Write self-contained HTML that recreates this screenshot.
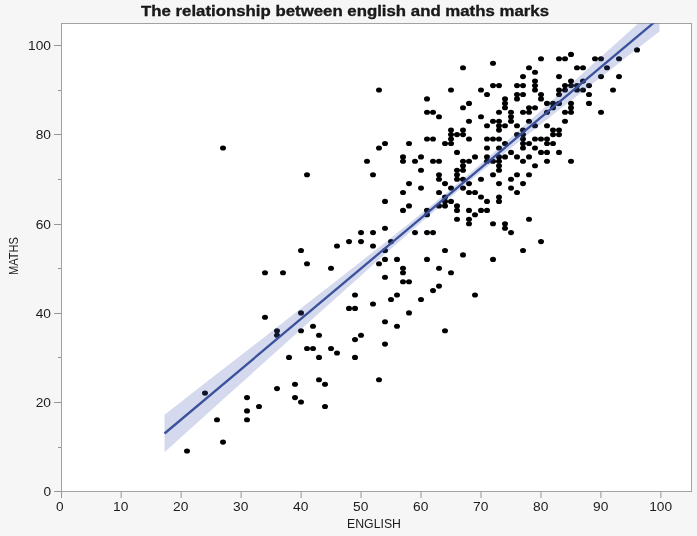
<!DOCTYPE html><html><head><meta charset="utf-8"><title>The relationship between english and maths marks</title>
<style>html,body{margin:0;padding:0;background:#f6f6f6}svg{display:block}text{font-family:"Liberation Sans",sans-serif;fill:#1c1c1c}</style></head><body>
<svg width="697" height="536" viewBox="0 0 697 536">
<rect width="697" height="536" fill="#f6f6f6"/>
<defs><clipPath id="c"><rect x="61.5" y="23.5" width="630" height="468"/></clipPath></defs>
<rect x="61.5" y="23.5" width="630" height="468" fill="#fff" stroke="#a2a2a2" stroke-width="1"/>
<g clip-path="url(#c)">
<g fill="#000">
<ellipse cx="187.0" cy="451.0" rx="3.0" ry="2.55"/>
<ellipse cx="205.0" cy="393.1" rx="3.0" ry="2.55"/>
<ellipse cx="217.0" cy="419.8" rx="3.0" ry="2.55"/>
<ellipse cx="223.0" cy="442.1" rx="3.0" ry="2.55"/>
<ellipse cx="223.0" cy="148.0" rx="3.0" ry="2.55"/>
<ellipse cx="247.0" cy="419.8" rx="3.0" ry="2.55"/>
<ellipse cx="247.0" cy="410.9" rx="3.0" ry="2.55"/>
<ellipse cx="247.0" cy="397.6" rx="3.0" ry="2.55"/>
<ellipse cx="259.0" cy="406.5" rx="3.0" ry="2.55"/>
<ellipse cx="265.0" cy="317.3" rx="3.0" ry="2.55"/>
<ellipse cx="265.0" cy="272.8" rx="3.0" ry="2.55"/>
<ellipse cx="277.0" cy="388.6" rx="3.0" ry="2.55"/>
<ellipse cx="277.0" cy="335.2" rx="3.0" ry="2.55"/>
<ellipse cx="277.0" cy="330.7" rx="3.0" ry="2.55"/>
<ellipse cx="283.0" cy="272.8" rx="3.0" ry="2.55"/>
<ellipse cx="289.0" cy="357.4" rx="3.0" ry="2.55"/>
<ellipse cx="295.0" cy="397.6" rx="3.0" ry="2.55"/>
<ellipse cx="295.0" cy="384.2" rx="3.0" ry="2.55"/>
<ellipse cx="301.0" cy="402.0" rx="3.0" ry="2.55"/>
<ellipse cx="301.0" cy="330.7" rx="3.0" ry="2.55"/>
<ellipse cx="301.0" cy="312.9" rx="3.0" ry="2.55"/>
<ellipse cx="301.0" cy="250.5" rx="3.0" ry="2.55"/>
<ellipse cx="307.0" cy="348.5" rx="3.0" ry="2.55"/>
<ellipse cx="307.0" cy="263.8" rx="3.0" ry="2.55"/>
<ellipse cx="307.0" cy="174.7" rx="3.0" ry="2.55"/>
<ellipse cx="313.0" cy="348.5" rx="3.0" ry="2.55"/>
<ellipse cx="313.0" cy="326.2" rx="3.0" ry="2.55"/>
<ellipse cx="319.0" cy="379.7" rx="3.0" ry="2.55"/>
<ellipse cx="319.0" cy="357.4" rx="3.0" ry="2.55"/>
<ellipse cx="319.0" cy="335.2" rx="3.0" ry="2.55"/>
<ellipse cx="325.0" cy="406.5" rx="3.0" ry="2.55"/>
<ellipse cx="325.0" cy="384.2" rx="3.0" ry="2.55"/>
<ellipse cx="331.0" cy="348.5" rx="3.0" ry="2.55"/>
<ellipse cx="331.0" cy="268.3" rx="3.0" ry="2.55"/>
<ellipse cx="337.0" cy="353.0" rx="3.0" ry="2.55"/>
<ellipse cx="337.0" cy="246.0" rx="3.0" ry="2.55"/>
<ellipse cx="349.0" cy="308.4" rx="3.0" ry="2.55"/>
<ellipse cx="349.0" cy="241.6" rx="3.0" ry="2.55"/>
<ellipse cx="355.0" cy="357.4" rx="3.0" ry="2.55"/>
<ellipse cx="355.0" cy="339.6" rx="3.0" ry="2.55"/>
<ellipse cx="355.0" cy="308.4" rx="3.0" ry="2.55"/>
<ellipse cx="355.0" cy="295.0" rx="3.0" ry="2.55"/>
<ellipse cx="361.0" cy="335.2" rx="3.0" ry="2.55"/>
<ellipse cx="361.0" cy="241.6" rx="3.0" ry="2.55"/>
<ellipse cx="361.0" cy="232.6" rx="3.0" ry="2.55"/>
<ellipse cx="367.0" cy="161.3" rx="3.0" ry="2.55"/>
<ellipse cx="373.0" cy="304.0" rx="3.0" ry="2.55"/>
<ellipse cx="373.0" cy="246.0" rx="3.0" ry="2.55"/>
<ellipse cx="373.0" cy="232.6" rx="3.0" ry="2.55"/>
<ellipse cx="373.0" cy="174.7" rx="3.0" ry="2.55"/>
<ellipse cx="379.0" cy="379.7" rx="3.0" ry="2.55"/>
<ellipse cx="379.0" cy="263.8" rx="3.0" ry="2.55"/>
<ellipse cx="379.0" cy="148.0" rx="3.0" ry="2.55"/>
<ellipse cx="379.0" cy="90.0" rx="3.0" ry="2.55"/>
<ellipse cx="385.0" cy="344.1" rx="3.0" ry="2.55"/>
<ellipse cx="385.0" cy="321.8" rx="3.0" ry="2.55"/>
<ellipse cx="385.0" cy="277.2" rx="3.0" ry="2.55"/>
<ellipse cx="385.0" cy="259.4" rx="3.0" ry="2.55"/>
<ellipse cx="385.0" cy="250.5" rx="3.0" ry="2.55"/>
<ellipse cx="385.0" cy="228.2" rx="3.0" ry="2.55"/>
<ellipse cx="385.0" cy="201.4" rx="3.0" ry="2.55"/>
<ellipse cx="385.0" cy="143.5" rx="3.0" ry="2.55"/>
<ellipse cx="391.0" cy="299.5" rx="3.0" ry="2.55"/>
<ellipse cx="391.0" cy="241.6" rx="3.0" ry="2.55"/>
<ellipse cx="397.0" cy="326.2" rx="3.0" ry="2.55"/>
<ellipse cx="397.0" cy="295.0" rx="3.0" ry="2.55"/>
<ellipse cx="397.0" cy="259.4" rx="3.0" ry="2.55"/>
<ellipse cx="403.0" cy="281.7" rx="3.0" ry="2.55"/>
<ellipse cx="403.0" cy="272.8" rx="3.0" ry="2.55"/>
<ellipse cx="403.0" cy="268.3" rx="3.0" ry="2.55"/>
<ellipse cx="403.0" cy="210.4" rx="3.0" ry="2.55"/>
<ellipse cx="403.0" cy="192.5" rx="3.0" ry="2.55"/>
<ellipse cx="403.0" cy="161.3" rx="3.0" ry="2.55"/>
<ellipse cx="403.0" cy="156.9" rx="3.0" ry="2.55"/>
<ellipse cx="409.0" cy="312.9" rx="3.0" ry="2.55"/>
<ellipse cx="409.0" cy="281.7" rx="3.0" ry="2.55"/>
<ellipse cx="409.0" cy="205.9" rx="3.0" ry="2.55"/>
<ellipse cx="409.0" cy="183.6" rx="3.0" ry="2.55"/>
<ellipse cx="409.0" cy="143.5" rx="3.0" ry="2.55"/>
<ellipse cx="415.0" cy="232.6" rx="3.0" ry="2.55"/>
<ellipse cx="415.0" cy="161.3" rx="3.0" ry="2.55"/>
<ellipse cx="421.0" cy="299.5" rx="3.0" ry="2.55"/>
<ellipse cx="421.0" cy="188.1" rx="3.0" ry="2.55"/>
<ellipse cx="421.0" cy="170.2" rx="3.0" ry="2.55"/>
<ellipse cx="421.0" cy="156.9" rx="3.0" ry="2.55"/>
<ellipse cx="427.0" cy="259.4" rx="3.0" ry="2.55"/>
<ellipse cx="427.0" cy="232.6" rx="3.0" ry="2.55"/>
<ellipse cx="427.0" cy="214.8" rx="3.0" ry="2.55"/>
<ellipse cx="427.0" cy="210.4" rx="3.0" ry="2.55"/>
<ellipse cx="427.0" cy="139.0" rx="3.0" ry="2.55"/>
<ellipse cx="427.0" cy="112.3" rx="3.0" ry="2.55"/>
<ellipse cx="427.0" cy="98.9" rx="3.0" ry="2.55"/>
<ellipse cx="433.0" cy="290.6" rx="3.0" ry="2.55"/>
<ellipse cx="433.0" cy="232.6" rx="3.0" ry="2.55"/>
<ellipse cx="433.0" cy="161.3" rx="3.0" ry="2.55"/>
<ellipse cx="433.0" cy="139.0" rx="3.0" ry="2.55"/>
<ellipse cx="433.0" cy="112.3" rx="3.0" ry="2.55"/>
<ellipse cx="439.0" cy="286.1" rx="3.0" ry="2.55"/>
<ellipse cx="439.0" cy="268.3" rx="3.0" ry="2.55"/>
<ellipse cx="439.0" cy="205.9" rx="3.0" ry="2.55"/>
<ellipse cx="439.0" cy="192.5" rx="3.0" ry="2.55"/>
<ellipse cx="439.0" cy="179.2" rx="3.0" ry="2.55"/>
<ellipse cx="439.0" cy="174.7" rx="3.0" ry="2.55"/>
<ellipse cx="439.0" cy="161.3" rx="3.0" ry="2.55"/>
<ellipse cx="439.0" cy="116.8" rx="3.0" ry="2.55"/>
<ellipse cx="445.0" cy="330.7" rx="3.0" ry="2.55"/>
<ellipse cx="445.0" cy="250.5" rx="3.0" ry="2.55"/>
<ellipse cx="445.0" cy="205.9" rx="3.0" ry="2.55"/>
<ellipse cx="445.0" cy="201.4" rx="3.0" ry="2.55"/>
<ellipse cx="445.0" cy="197.0" rx="3.0" ry="2.55"/>
<ellipse cx="445.0" cy="183.6" rx="3.0" ry="2.55"/>
<ellipse cx="445.0" cy="143.5" rx="3.0" ry="2.55"/>
<ellipse cx="451.0" cy="272.8" rx="3.0" ry="2.55"/>
<ellipse cx="451.0" cy="201.4" rx="3.0" ry="2.55"/>
<ellipse cx="451.0" cy="188.1" rx="3.0" ry="2.55"/>
<ellipse cx="451.0" cy="143.5" rx="3.0" ry="2.55"/>
<ellipse cx="451.0" cy="139.0" rx="3.0" ry="2.55"/>
<ellipse cx="451.0" cy="134.6" rx="3.0" ry="2.55"/>
<ellipse cx="451.0" cy="130.1" rx="3.0" ry="2.55"/>
<ellipse cx="451.0" cy="90.0" rx="3.0" ry="2.55"/>
<ellipse cx="457.0" cy="219.3" rx="3.0" ry="2.55"/>
<ellipse cx="457.0" cy="210.4" rx="3.0" ry="2.55"/>
<ellipse cx="457.0" cy="205.9" rx="3.0" ry="2.55"/>
<ellipse cx="457.0" cy="179.2" rx="3.0" ry="2.55"/>
<ellipse cx="457.0" cy="174.7" rx="3.0" ry="2.55"/>
<ellipse cx="457.0" cy="170.2" rx="3.0" ry="2.55"/>
<ellipse cx="457.0" cy="152.4" rx="3.0" ry="2.55"/>
<ellipse cx="457.0" cy="134.6" rx="3.0" ry="2.55"/>
<ellipse cx="463.0" cy="254.9" rx="3.0" ry="2.55"/>
<ellipse cx="463.0" cy="188.1" rx="3.0" ry="2.55"/>
<ellipse cx="463.0" cy="179.2" rx="3.0" ry="2.55"/>
<ellipse cx="463.0" cy="170.2" rx="3.0" ry="2.55"/>
<ellipse cx="463.0" cy="165.8" rx="3.0" ry="2.55"/>
<ellipse cx="463.0" cy="161.3" rx="3.0" ry="2.55"/>
<ellipse cx="463.0" cy="134.6" rx="3.0" ry="2.55"/>
<ellipse cx="463.0" cy="130.1" rx="3.0" ry="2.55"/>
<ellipse cx="463.0" cy="107.8" rx="3.0" ry="2.55"/>
<ellipse cx="463.0" cy="67.7" rx="3.0" ry="2.55"/>
<ellipse cx="469.0" cy="223.7" rx="3.0" ry="2.55"/>
<ellipse cx="469.0" cy="219.3" rx="3.0" ry="2.55"/>
<ellipse cx="469.0" cy="210.4" rx="3.0" ry="2.55"/>
<ellipse cx="469.0" cy="192.5" rx="3.0" ry="2.55"/>
<ellipse cx="469.0" cy="183.6" rx="3.0" ry="2.55"/>
<ellipse cx="469.0" cy="161.3" rx="3.0" ry="2.55"/>
<ellipse cx="469.0" cy="139.0" rx="3.0" ry="2.55"/>
<ellipse cx="469.0" cy="121.2" rx="3.0" ry="2.55"/>
<ellipse cx="469.0" cy="103.4" rx="3.0" ry="2.55"/>
<ellipse cx="475.0" cy="295.0" rx="3.0" ry="2.55"/>
<ellipse cx="475.0" cy="214.8" rx="3.0" ry="2.55"/>
<ellipse cx="475.0" cy="192.5" rx="3.0" ry="2.55"/>
<ellipse cx="475.0" cy="156.9" rx="3.0" ry="2.55"/>
<ellipse cx="481.0" cy="210.4" rx="3.0" ry="2.55"/>
<ellipse cx="481.0" cy="197.0" rx="3.0" ry="2.55"/>
<ellipse cx="481.0" cy="179.2" rx="3.0" ry="2.55"/>
<ellipse cx="481.0" cy="116.8" rx="3.0" ry="2.55"/>
<ellipse cx="481.0" cy="90.0" rx="3.0" ry="2.55"/>
<ellipse cx="487.0" cy="210.4" rx="3.0" ry="2.55"/>
<ellipse cx="487.0" cy="201.4" rx="3.0" ry="2.55"/>
<ellipse cx="487.0" cy="161.3" rx="3.0" ry="2.55"/>
<ellipse cx="487.0" cy="156.9" rx="3.0" ry="2.55"/>
<ellipse cx="487.0" cy="148.0" rx="3.0" ry="2.55"/>
<ellipse cx="487.0" cy="139.0" rx="3.0" ry="2.55"/>
<ellipse cx="487.0" cy="125.7" rx="3.0" ry="2.55"/>
<ellipse cx="487.0" cy="94.5" rx="3.0" ry="2.55"/>
<ellipse cx="493.0" cy="259.4" rx="3.0" ry="2.55"/>
<ellipse cx="493.0" cy="223.7" rx="3.0" ry="2.55"/>
<ellipse cx="493.0" cy="174.7" rx="3.0" ry="2.55"/>
<ellipse cx="493.0" cy="161.3" rx="3.0" ry="2.55"/>
<ellipse cx="493.0" cy="139.0" rx="3.0" ry="2.55"/>
<ellipse cx="493.0" cy="121.2" rx="3.0" ry="2.55"/>
<ellipse cx="493.0" cy="85.6" rx="3.0" ry="2.55"/>
<ellipse cx="493.0" cy="63.3" rx="3.0" ry="2.55"/>
<ellipse cx="499.0" cy="201.4" rx="3.0" ry="2.55"/>
<ellipse cx="499.0" cy="197.0" rx="3.0" ry="2.55"/>
<ellipse cx="499.0" cy="183.6" rx="3.0" ry="2.55"/>
<ellipse cx="499.0" cy="170.2" rx="3.0" ry="2.55"/>
<ellipse cx="499.0" cy="165.8" rx="3.0" ry="2.55"/>
<ellipse cx="499.0" cy="161.3" rx="3.0" ry="2.55"/>
<ellipse cx="499.0" cy="156.9" rx="3.0" ry="2.55"/>
<ellipse cx="499.0" cy="148.0" rx="3.0" ry="2.55"/>
<ellipse cx="499.0" cy="139.0" rx="3.0" ry="2.55"/>
<ellipse cx="499.0" cy="130.1" rx="3.0" ry="2.55"/>
<ellipse cx="499.0" cy="125.7" rx="3.0" ry="2.55"/>
<ellipse cx="499.0" cy="121.2" rx="3.0" ry="2.55"/>
<ellipse cx="499.0" cy="112.3" rx="3.0" ry="2.55"/>
<ellipse cx="499.0" cy="85.6" rx="3.0" ry="2.55"/>
<ellipse cx="505.0" cy="228.2" rx="3.0" ry="2.55"/>
<ellipse cx="505.0" cy="223.7" rx="3.0" ry="2.55"/>
<ellipse cx="505.0" cy="156.9" rx="3.0" ry="2.55"/>
<ellipse cx="505.0" cy="143.5" rx="3.0" ry="2.55"/>
<ellipse cx="505.0" cy="125.7" rx="3.0" ry="2.55"/>
<ellipse cx="505.0" cy="107.8" rx="3.0" ry="2.55"/>
<ellipse cx="505.0" cy="103.4" rx="3.0" ry="2.55"/>
<ellipse cx="505.0" cy="98.9" rx="3.0" ry="2.55"/>
<ellipse cx="511.0" cy="232.6" rx="3.0" ry="2.55"/>
<ellipse cx="511.0" cy="188.1" rx="3.0" ry="2.55"/>
<ellipse cx="511.0" cy="179.2" rx="3.0" ry="2.55"/>
<ellipse cx="511.0" cy="152.4" rx="3.0" ry="2.55"/>
<ellipse cx="511.0" cy="121.2" rx="3.0" ry="2.55"/>
<ellipse cx="511.0" cy="116.8" rx="3.0" ry="2.55"/>
<ellipse cx="511.0" cy="112.3" rx="3.0" ry="2.55"/>
<ellipse cx="517.0" cy="192.5" rx="3.0" ry="2.55"/>
<ellipse cx="517.0" cy="174.7" rx="3.0" ry="2.55"/>
<ellipse cx="517.0" cy="156.9" rx="3.0" ry="2.55"/>
<ellipse cx="517.0" cy="134.6" rx="3.0" ry="2.55"/>
<ellipse cx="517.0" cy="125.7" rx="3.0" ry="2.55"/>
<ellipse cx="517.0" cy="98.9" rx="3.0" ry="2.55"/>
<ellipse cx="517.0" cy="94.5" rx="3.0" ry="2.55"/>
<ellipse cx="517.0" cy="85.6" rx="3.0" ry="2.55"/>
<ellipse cx="523.0" cy="250.5" rx="3.0" ry="2.55"/>
<ellipse cx="523.0" cy="183.6" rx="3.0" ry="2.55"/>
<ellipse cx="523.0" cy="161.3" rx="3.0" ry="2.55"/>
<ellipse cx="523.0" cy="148.0" rx="3.0" ry="2.55"/>
<ellipse cx="523.0" cy="143.5" rx="3.0" ry="2.55"/>
<ellipse cx="523.0" cy="139.0" rx="3.0" ry="2.55"/>
<ellipse cx="523.0" cy="134.6" rx="3.0" ry="2.55"/>
<ellipse cx="523.0" cy="130.1" rx="3.0" ry="2.55"/>
<ellipse cx="523.0" cy="112.3" rx="3.0" ry="2.55"/>
<ellipse cx="523.0" cy="94.5" rx="3.0" ry="2.55"/>
<ellipse cx="523.0" cy="85.6" rx="3.0" ry="2.55"/>
<ellipse cx="523.0" cy="76.6" rx="3.0" ry="2.55"/>
<ellipse cx="529.0" cy="219.3" rx="3.0" ry="2.55"/>
<ellipse cx="529.0" cy="174.7" rx="3.0" ry="2.55"/>
<ellipse cx="529.0" cy="156.9" rx="3.0" ry="2.55"/>
<ellipse cx="529.0" cy="143.5" rx="3.0" ry="2.55"/>
<ellipse cx="529.0" cy="121.2" rx="3.0" ry="2.55"/>
<ellipse cx="529.0" cy="112.3" rx="3.0" ry="2.55"/>
<ellipse cx="529.0" cy="107.8" rx="3.0" ry="2.55"/>
<ellipse cx="529.0" cy="67.7" rx="3.0" ry="2.55"/>
<ellipse cx="535.0" cy="165.8" rx="3.0" ry="2.55"/>
<ellipse cx="535.0" cy="148.0" rx="3.0" ry="2.55"/>
<ellipse cx="535.0" cy="139.0" rx="3.0" ry="2.55"/>
<ellipse cx="535.0" cy="125.7" rx="3.0" ry="2.55"/>
<ellipse cx="535.0" cy="107.8" rx="3.0" ry="2.55"/>
<ellipse cx="535.0" cy="90.0" rx="3.0" ry="2.55"/>
<ellipse cx="535.0" cy="85.6" rx="3.0" ry="2.55"/>
<ellipse cx="535.0" cy="81.1" rx="3.0" ry="2.55"/>
<ellipse cx="535.0" cy="72.2" rx="3.0" ry="2.55"/>
<ellipse cx="541.0" cy="241.6" rx="3.0" ry="2.55"/>
<ellipse cx="541.0" cy="152.4" rx="3.0" ry="2.55"/>
<ellipse cx="541.0" cy="139.0" rx="3.0" ry="2.55"/>
<ellipse cx="541.0" cy="98.9" rx="3.0" ry="2.55"/>
<ellipse cx="541.0" cy="94.5" rx="3.0" ry="2.55"/>
<ellipse cx="541.0" cy="58.8" rx="3.0" ry="2.55"/>
<ellipse cx="547.0" cy="161.3" rx="3.0" ry="2.55"/>
<ellipse cx="547.0" cy="152.4" rx="3.0" ry="2.55"/>
<ellipse cx="547.0" cy="143.5" rx="3.0" ry="2.55"/>
<ellipse cx="547.0" cy="139.0" rx="3.0" ry="2.55"/>
<ellipse cx="547.0" cy="125.7" rx="3.0" ry="2.55"/>
<ellipse cx="547.0" cy="112.3" rx="3.0" ry="2.55"/>
<ellipse cx="547.0" cy="103.4" rx="3.0" ry="2.55"/>
<ellipse cx="553.0" cy="143.5" rx="3.0" ry="2.55"/>
<ellipse cx="553.0" cy="134.6" rx="3.0" ry="2.55"/>
<ellipse cx="553.0" cy="130.1" rx="3.0" ry="2.55"/>
<ellipse cx="553.0" cy="107.8" rx="3.0" ry="2.55"/>
<ellipse cx="553.0" cy="103.4" rx="3.0" ry="2.55"/>
<ellipse cx="559.0" cy="152.4" rx="3.0" ry="2.55"/>
<ellipse cx="559.0" cy="134.6" rx="3.0" ry="2.55"/>
<ellipse cx="559.0" cy="130.1" rx="3.0" ry="2.55"/>
<ellipse cx="559.0" cy="103.4" rx="3.0" ry="2.55"/>
<ellipse cx="559.0" cy="94.5" rx="3.0" ry="2.55"/>
<ellipse cx="559.0" cy="90.0" rx="3.0" ry="2.55"/>
<ellipse cx="559.0" cy="76.6" rx="3.0" ry="2.55"/>
<ellipse cx="559.0" cy="58.8" rx="3.0" ry="2.55"/>
<ellipse cx="565.0" cy="121.2" rx="3.0" ry="2.55"/>
<ellipse cx="565.0" cy="112.3" rx="3.0" ry="2.55"/>
<ellipse cx="565.0" cy="90.0" rx="3.0" ry="2.55"/>
<ellipse cx="565.0" cy="85.6" rx="3.0" ry="2.55"/>
<ellipse cx="565.0" cy="58.8" rx="3.0" ry="2.55"/>
<ellipse cx="571.0" cy="161.3" rx="3.0" ry="2.55"/>
<ellipse cx="571.0" cy="112.3" rx="3.0" ry="2.55"/>
<ellipse cx="571.0" cy="107.8" rx="3.0" ry="2.55"/>
<ellipse cx="571.0" cy="103.4" rx="3.0" ry="2.55"/>
<ellipse cx="571.0" cy="85.6" rx="3.0" ry="2.55"/>
<ellipse cx="571.0" cy="81.1" rx="3.0" ry="2.55"/>
<ellipse cx="571.0" cy="54.4" rx="3.0" ry="2.55"/>
<ellipse cx="577.0" cy="90.0" rx="3.0" ry="2.55"/>
<ellipse cx="577.0" cy="85.6" rx="3.0" ry="2.55"/>
<ellipse cx="577.0" cy="67.7" rx="3.0" ry="2.55"/>
<ellipse cx="583.0" cy="90.0" rx="3.0" ry="2.55"/>
<ellipse cx="583.0" cy="81.1" rx="3.0" ry="2.55"/>
<ellipse cx="583.0" cy="67.7" rx="3.0" ry="2.55"/>
<ellipse cx="589.0" cy="103.4" rx="3.0" ry="2.55"/>
<ellipse cx="589.0" cy="94.5" rx="3.0" ry="2.55"/>
<ellipse cx="589.0" cy="85.6" rx="3.0" ry="2.55"/>
<ellipse cx="595.0" cy="58.8" rx="3.0" ry="2.55"/>
<ellipse cx="601.0" cy="112.3" rx="3.0" ry="2.55"/>
<ellipse cx="601.0" cy="76.6" rx="3.0" ry="2.55"/>
<ellipse cx="601.0" cy="58.8" rx="3.0" ry="2.55"/>
<ellipse cx="607.0" cy="67.7" rx="3.0" ry="2.55"/>
<ellipse cx="613.0" cy="90.0" rx="3.0" ry="2.55"/>
<ellipse cx="619.0" cy="76.6" rx="3.0" ry="2.55"/>
<ellipse cx="619.0" cy="58.8" rx="3.0" ry="2.55"/>
<ellipse cx="637.0" cy="49.9" rx="3.0" ry="2.55"/>
</g>
<polygon points="164.5,414.7 172.9,408.2 181.3,401.7 189.7,395.1 198.1,388.6 206.4,382.1 214.8,375.6 223.2,369.0 231.6,362.5 240.0,356.0 248.4,349.4 256.8,342.9 265.2,336.4 273.6,329.8 282.0,323.3 290.3,316.7 298.7,310.2 307.1,303.6 315.5,297.1 323.9,290.5 332.3,284.0 340.7,277.4 349.1,270.8 357.5,264.2 365.9,257.6 374.2,251.0 382.6,244.4 391.0,237.7 399.4,231.1 407.8,224.4 416.2,217.6 424.6,210.8 433.0,204.0 441.4,197.1 449.8,190.1 458.1,183.1 466.5,176.0 474.9,168.8 483.3,161.5 491.7,154.2 500.1,146.9 508.5,139.5 516.9,132.1 525.3,124.6 533.7,117.2 542.0,109.7 550.4,102.2 558.8,94.7 567.2,87.2 575.6,79.7 584.0,72.2 592.4,64.6 600.8,57.1 609.2,49.6 617.6,42.0 625.9,34.5 634.3,26.9 642.7,19.4 651.1,11.8 659.5,4.3 659.5,31.5 651.1,38.0 642.7,44.5 634.3,51.1 625.9,57.6 617.6,64.2 609.2,70.7 600.8,77.3 592.4,83.8 584.0,90.4 575.6,96.9 567.2,103.5 558.8,110.1 550.4,116.7 542.0,123.3 533.7,129.9 525.3,136.5 516.9,143.2 508.5,149.9 500.1,156.6 491.7,163.3 483.3,170.1 474.9,176.9 466.5,183.8 458.1,190.8 449.8,197.8 441.4,205.0 433.0,212.2 424.6,219.4 416.2,226.7 407.8,234.0 399.4,241.4 391.0,248.8 382.6,256.3 374.2,263.7 365.9,271.2 357.5,278.7 349.1,286.2 340.7,293.7 332.3,301.2 323.9,308.8 315.5,316.3 307.1,323.8 298.7,331.4 290.3,338.9 282.0,346.4 273.6,354.0 265.2,361.5 256.8,369.1 248.4,376.7 240.0,384.2 231.6,391.8 223.2,399.3 214.8,406.9 206.4,414.4 198.1,422.0 189.7,429.6 181.3,437.1 172.9,444.7 164.5,452.3" fill="#4a5cb0" fill-opacity="0.23"/>
<line x1="164.5" y1="433.5" x2="659.5" y2="17.9" stroke="#3a519c" stroke-width="2.3"/>
</g>
<g stroke="#969696" stroke-width="1">
<line x1="61.50" y1="492" x2="61.50" y2="498"/>
<line x1="121.17" y1="492" x2="121.17" y2="498"/>
<line x1="181.14" y1="492" x2="181.14" y2="498"/>
<line x1="241.11" y1="492" x2="241.11" y2="498"/>
<line x1="301.08" y1="492" x2="301.08" y2="498"/>
<line x1="361.05" y1="492" x2="361.05" y2="498"/>
<line x1="421.02" y1="492" x2="421.02" y2="498"/>
<line x1="480.99" y1="492" x2="480.99" y2="498"/>
<line x1="540.96" y1="492" x2="540.96" y2="498"/>
<line x1="600.93" y1="492" x2="600.93" y2="498"/>
<line x1="660.90" y1="492" x2="660.90" y2="498"/>
<line x1="54.0" y1="491.5" x2="61" y2="491.5"/>
<line x1="58.0" y1="447.5" x2="61" y2="447.5"/>
<line x1="54.0" y1="402.5" x2="61" y2="402.5"/>
<line x1="58.0" y1="357.5" x2="61" y2="357.5"/>
<line x1="54.0" y1="313.5" x2="61" y2="313.5"/>
<line x1="58.0" y1="268.5" x2="61" y2="268.5"/>
<line x1="54.0" y1="224.5" x2="61" y2="224.5"/>
<line x1="58.0" y1="179.5" x2="61" y2="179.5"/>
<line x1="54.0" y1="134.5" x2="61" y2="134.5"/>
<line x1="58.0" y1="90.5" x2="61" y2="90.5"/>
<line x1="54.0" y1="45.5" x2="61" y2="45.5"/>
</g>
<g font-size="12.5">
<text x="56.1" y="511" textLength="7.6" lengthAdjust="spacingAndGlyphs">0</text>
<text x="113.1" y="511" textLength="15.3" lengthAdjust="spacingAndGlyphs">10</text>
<text x="173.1" y="511" textLength="15.3" lengthAdjust="spacingAndGlyphs">20</text>
<text x="233.1" y="511" textLength="15.3" lengthAdjust="spacingAndGlyphs">30</text>
<text x="293.1" y="511" textLength="15.3" lengthAdjust="spacingAndGlyphs">40</text>
<text x="353.1" y="511" textLength="15.3" lengthAdjust="spacingAndGlyphs">50</text>
<text x="413.1" y="511" textLength="15.3" lengthAdjust="spacingAndGlyphs">60</text>
<text x="473.1" y="511" textLength="15.3" lengthAdjust="spacingAndGlyphs">70</text>
<text x="533.1" y="511" textLength="15.3" lengthAdjust="spacingAndGlyphs">80</text>
<text x="593.1" y="511" textLength="15.3" lengthAdjust="spacingAndGlyphs">90</text>
<text x="649.2" y="511" textLength="22.9" lengthAdjust="spacingAndGlyphs">100</text>
<text x="43.4" y="496.0" textLength="7.6" lengthAdjust="spacingAndGlyphs">0</text>
<text x="35.7" y="407.0" textLength="15.3" lengthAdjust="spacingAndGlyphs">20</text>
<text x="35.7" y="318.0" textLength="15.3" lengthAdjust="spacingAndGlyphs">40</text>
<text x="35.7" y="229.0" textLength="15.3" lengthAdjust="spacingAndGlyphs">60</text>
<text x="35.7" y="139.0" textLength="15.3" lengthAdjust="spacingAndGlyphs">80</text>
<text x="28.1" y="50.0" textLength="22.9" lengthAdjust="spacingAndGlyphs">100</text>
</g>
<text x="374" y="528" font-size="12" text-anchor="middle" textLength="54" lengthAdjust="spacingAndGlyphs">ENGLISH</text>
<text transform="translate(18.3,256) rotate(-90)" font-size="13.5" text-anchor="middle" textLength="38" lengthAdjust="spacingAndGlyphs">MATHS</text>
<text x="345" y="16.1" font-size="15.5" font-weight="bold" fill="#000" stroke="#000" stroke-width="0.3" text-anchor="middle" textLength="408" lengthAdjust="spacingAndGlyphs">The relationship between english and maths marks</text>
</svg></body></html>
